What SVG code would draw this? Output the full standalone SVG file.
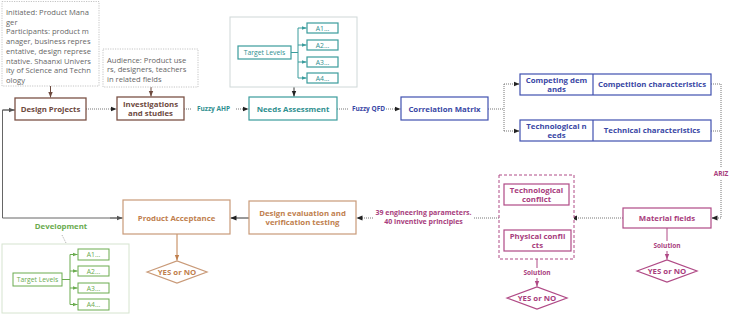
<svg xmlns="http://www.w3.org/2000/svg" width="731" height="316" viewBox="0 0 731 316">
<style>
text{font-family:"Open Sans","Noto Sans","Liberation Sans",sans-serif;}
.note{fill:#fff;stroke:#c4c4c4;stroke-width:1;stroke-dasharray:1.2 1.2;}
.nt{font-size:7.6px;fill:#666;}
.b{font-weight:bold;font-size:7.8px;text-anchor:middle;}
.brown{fill:#fff;stroke:#7b5246;stroke-width:1.3;}
.tbrown{fill:#6e4a3e;}
.teal{fill:#fff;stroke:#3a9c9c;stroke-width:1.2;}
.tteal{fill:#2f8f8f;}
.blue{fill:#fff;stroke:#4050b0;stroke-width:1.2;}
.tblue{fill:#3a48a5;}
.pink{fill:#fff;stroke:#b04a86;stroke-width:1.2;}
.tpink{fill:#a83d7d;}
.orange{fill:#fff;stroke:#c99a78;stroke-width:1.2;}
.torange{fill:#c0804e;}
.green{fill:#fff;stroke:#6aab4f;stroke-width:1;}
.tgreen{fill:#6aab4f;}
.cont{fill:#fff;stroke:#cfd8d8;stroke-width:1;}
.small{font-size:6.8px;text-anchor:middle;}
.lbl{font-weight:bold;font-size:6.5px;text-anchor:middle;}
.dot{fill:none;stroke:#777;stroke-width:1;stroke-dasharray:1 1;}
.sol{fill:none;stroke-width:1;}
</style>
<defs>
<marker id="ak" viewBox="0 0 6 6" refX="6" refY="3" markerWidth="6" markerHeight="6" orient="auto" markerUnits="userSpaceOnUse"><path d="M0,0.6 L6,3 L0,5.4 z" fill="#222"/></marker>
<marker id="ag" viewBox="0 0 6 6" refX="6" refY="3" markerWidth="6" markerHeight="6" orient="auto" markerUnits="userSpaceOnUse"><path d="M0,0.6 L6,3 L0,5.4 z" fill="#555"/></marker>
<marker id="abr" viewBox="0 0 6 6" refX="6" refY="3" markerWidth="6" markerHeight="6" orient="auto" markerUnits="userSpaceOnUse"><path d="M0,0.6 L6,3 L0,5.4 z" fill="#6e4a3e"/></marker>
<marker id="ate" viewBox="0 0 6 6" refX="6" refY="3" markerWidth="5" markerHeight="5" orient="auto" markerUnits="userSpaceOnUse"><path d="M0,0.6 L6,3 L0,5.4 z" fill="#3a9c9c"/></marker>
<marker id="agr" viewBox="0 0 6 6" refX="6" refY="3" markerWidth="5" markerHeight="5" orient="auto" markerUnits="userSpaceOnUse"><path d="M0,0.6 L6,3 L0,5.4 z" fill="#6aab4f"/></marker>
<marker id="aor" viewBox="0 0 6 6" refX="6" refY="3" markerWidth="6" markerHeight="6" orient="auto" markerUnits="userSpaceOnUse"><path d="M0,0.6 L6,3 L0,5.4 z" fill="#c0804e"/></marker>
<marker id="api" viewBox="0 0 6 6" refX="6" refY="3" markerWidth="6" markerHeight="6" orient="auto" markerUnits="userSpaceOnUse"><path d="M0,0.6 L6,3 L0,5.4 z" fill="#b04a86"/></marker>
</defs>

<g id="connectors">
  <line x1="50.5" y1="86" x2="50.5" y2="97.5" class="sol" stroke="#6e4a3e" marker-end="url(#abr)"/>
  <line x1="151" y1="87" x2="151" y2="96.5" class="sol" stroke="#6e4a3e" marker-end="url(#abr)"/>
  <line x1="294" y1="87" x2="294" y2="96.5" class="sol" stroke="#333" marker-end="url(#ak)"/>
  <line x1="86" y1="109" x2="116.5" y2="109" class="dot" marker-end="url(#ak)"/>
  <line x1="184" y1="109" x2="194" y2="109" class="dot"/>
  <line x1="232" y1="109" x2="248.5" y2="109" class="dot" marker-end="url(#ak)"/>
  <line x1="337" y1="109" x2="349" y2="109" class="dot"/>
  <line x1="384" y1="109" x2="400.5" y2="109" class="dot" marker-end="url(#ak)"/>
  <polyline points="488,109 504,109" class="dot"/>
  <line x1="504" y1="84" x2="504" y2="131" class="dot"/>
  <line x1="504" y1="84" x2="519.5" y2="84" class="dot" marker-end="url(#ak)"/>
  <line x1="504" y1="131" x2="519.5" y2="131" class="dot" marker-end="url(#ak)"/>
  <polyline points="711,84 721,84 721,218" class="dot"/>
  <line x1="711" y1="131" x2="721" y2="131" class="dot"/>
  <line x1="721" y1="218" x2="711.5" y2="218" class="dot" marker-end="url(#ak)"/>
  <line x1="623" y1="218" x2="571" y2="218" class="dot" marker-end="url(#ak)"/>
  <line x1="499" y1="218" x2="473" y2="218" class="dot"/>
  <line x1="373" y1="218" x2="356.5" y2="218" class="dot" marker-end="url(#ak)"/>
  <line x1="249" y1="218" x2="230.5" y2="218" class="sol" stroke="#333" marker-end="url(#ak)"/>
  <polyline points="15,110 2.5,110 2.5,218 122.5,218" class="sol" stroke="#666"/>
  <line x1="2.5" y1="110" x2="14.5" y2="110" class="sol" stroke="#666" marker-end="url(#ag)"/>
  <line x1="110" y1="218" x2="122.5" y2="218" class="sol" stroke="#666" marker-end="url(#ag)"/>
  <line x1="177" y1="234" x2="177" y2="260.5" class="sol" stroke="#c0804e" marker-end="url(#aor)"/>
  <line x1="667" y1="228" x2="667" y2="259.5" class="sol" stroke="#b04a86" marker-end="url(#api)"/>
  <line x1="537" y1="259" x2="537" y2="286.5" class="sol" stroke="#b04a86" marker-end="url(#api)"/>
  <line x1="62" y1="235" x2="66" y2="243" stroke="#999" stroke-width="0.8" stroke-dasharray="1 1"/>
  <rect x="191" y="104" width="45" height="10" fill="#fff"/>
  <text x="213.5" y="111.3" class="lbl tteal">Fuzzy AHP</text>
  <rect x="352" y="104" width="33" height="10" fill="#fff"/>
  <text x="368.5" y="111.3" class="lbl tblue">Fuzzy QFD</text>
  <rect x="712" y="168" width="18" height="11" fill="#fff"/>
  <text x="721" y="176.3" class="lbl tpink">ARIZ</text>
  <rect x="650" y="241" width="34" height="10" fill="#fff"/>
  <text x="667" y="248.3" class="lbl tpink">Solution</text>
  <rect x="520" y="268" width="34" height="10" fill="#fff"/>
  <text x="537" y="275.3" class="lbl tpink">Solution</text>
  <text x="423.5" y="215.3" class="lbl tpink" style="font-size:7px">39 engineering parameters.</text>
  <text x="423.5" y="224.3" class="lbl tpink" style="font-size:7px">40 inventive principles</text>
</g>

<g id="note-initiated">
  <rect x="2" y="1.5" width="97" height="84.5" class="note"/>
  <text class="nt" x="6" y="15">Initiated: Product Mana</text>
  <text class="nt" x="6" y="24.7">ger</text>
  <text class="nt" x="6" y="34.4">Participants: product m</text>
  <text class="nt" x="6" y="44.1">anager, business repres</text>
  <text class="nt" x="6" y="53.8">entative, design represe</text>
  <text class="nt" x="6" y="63.5">ntative. Shaanxi Univers</text>
  <text class="nt" x="6" y="73.2">ity of Science and Techn</text>
  <text class="nt" x="6" y="82.9">ology</text>
</g>
<g id="note-audience">
  <rect x="103" y="49" width="95" height="38" class="note"/>
  <text class="nt" x="107" y="62.5">Audience: Product use</text>
  <text class="nt" x="107" y="72.2">rs, designers, teachers</text>
  <text class="nt" x="107" y="81.9">in related fields</text>
</g>
<g id="design-projects">
  <rect x="15" y="98" width="71" height="22" class="brown"/>
  <text x="50.5" y="111.8" class="b tbrown">Design Projects</text>
</g>
<g id="investigations">
  <rect x="117" y="97" width="67" height="23" class="brown"/>
  <text x="150.5" y="106.6" class="b tbrown">Investigations</text>
  <text x="150.5" y="116" class="b tbrown">and studies</text>
</g>
<g id="needs-targets">
  <rect x="230" y="17" width="127" height="70" class="cont"/>
  <rect x="238" y="46" width="53" height="13" class="teal" stroke-width="1"/>
  <text x="264.5" y="55" class="small tteal">Target Levels</text>
  <path d="M291,52.5 H298 M298,28 V78" stroke="#3a9c9c" stroke-width="1" fill="none"/>
  <line x1="298" y1="28" x2="306.5" y2="28" stroke="#3a9c9c" marker-end="url(#ate)"/>
  <line x1="298" y1="45" x2="306.5" y2="45" stroke="#3a9c9c" marker-end="url(#ate)"/>
  <line x1="298" y1="62" x2="306.5" y2="62" stroke="#3a9c9c" marker-end="url(#ate)"/>
  <line x1="298" y1="78" x2="306.5" y2="78" stroke="#3a9c9c" marker-end="url(#ate)"/>
  <rect x="307" y="23" width="31" height="10" class="teal" stroke-width="1"/>
  <text x="322.5" y="30.5" class="small tteal">A1...</text>
  <rect x="307" y="40" width="31" height="10" class="teal" stroke-width="1"/>
  <text x="322.5" y="47.5" class="small tteal">A2...</text>
  <rect x="307" y="57" width="31" height="10" class="teal" stroke-width="1"/>
  <text x="322.5" y="64.5" class="small tteal">A3...</text>
  <rect x="307" y="73" width="31" height="10" class="teal" stroke-width="1"/>
  <text x="322.5" y="80.5" class="small tteal">A4...</text>
</g>
<g id="needs-assessment">
  <rect x="249" y="97" width="88" height="23" class="teal"/>
  <text x="293" y="111.8" class="b tteal">Needs Assessment</text>
</g>
<g id="correlation-matrix">
  <rect x="401" y="97" width="87" height="23" class="blue"/>
  <text x="444.5" y="111.8" class="b tblue">Correlation Matrix</text>
</g>
<g id="competing">
  <rect x="520" y="74" width="191" height="21" class="blue"/>
  <line x1="593" y1="74" x2="593" y2="95" stroke="#4050b0" stroke-width="1.2"/>
  <text x="556.5" y="82.5" class="b tblue">Competing dem</text>
  <text x="556.5" y="92" class="b tblue">ands</text>
  <text x="652" y="87.3" class="b tblue">Competition characteristics</text>
</g>
<g id="technological">
  <rect x="520" y="120" width="191" height="21" class="blue"/>
  <line x1="593" y1="120" x2="593" y2="141" stroke="#4050b0" stroke-width="1.2"/>
  <text x="556.5" y="128.5" class="b tblue">Technological n</text>
  <text x="556.5" y="138" class="b tblue">eeds</text>
  <text x="652" y="133.3" class="b tblue">Technical characteristics</text>
</g>
<g id="material-fields">
  <rect x="623" y="208" width="88" height="20" class="pink"/>
  <text x="667" y="220.8" class="b tpink">Material fields</text>
</g>
<g id="yesno-material">
  <polygon points="637,271 667,260 697,271 667,282" class="pink"/>
  <text x="667" y="274" class="b tpink">YES or NO</text>
</g>
<g id="conflicts">
  <rect x="499" y="175" width="75" height="84" fill="#fff" stroke="#b04a86" stroke-width="1" stroke-dasharray="3 2"/>
  <rect x="504" y="184" width="65" height="21" class="pink"/>
  <text x="536.5" y="192.5" class="b tpink">Technological</text>
  <text x="536.5" y="202" class="b tpink">conflict</text>
  <rect x="504" y="230" width="67" height="21" class="pink"/>
  <text x="537.5" y="238.5" class="b tpink">Physical confli</text>
  <text x="537.5" y="248" class="b tpink">cts</text>
</g>
<g id="yesno-conflicts">
  <polygon points="507,298 537,287 567,298 537,309" class="pink"/>
  <text x="537" y="301" class="b tpink">YES or NO</text>
</g>
<g id="design-evaluation">
  <rect x="249" y="201" width="107" height="33" class="orange"/>
  <text x="302.5" y="215.5" class="b torange">Design evaluation and</text>
  <text x="302.5" y="225" class="b torange">verification testing</text>
</g>
<g id="product-acceptance">
  <rect x="123" y="200" width="107" height="34" class="orange"/>
  <text x="176.5" y="220.8" class="b torange">Product Acceptance</text>
</g>
<g id="yesno-acceptance">
  <polygon points="147,272 177,261 207,272 177,283" class="orange"/>
  <text x="177" y="275" class="b torange">YES or NO</text>
</g>
<g id="development">
  <text x="61" y="229" class="b tgreen">Development</text>
  <rect x="2" y="244" width="127" height="69" fill="#fff" stroke="#d6e4cf" stroke-width="1"/>
  <rect x="13" y="273" width="49" height="13" class="green"/>
  <text x="37.5" y="282" class="small tgreen">Target Levels</text>
  <path d="M62,279.5 H70 M70,254.5 V304.5" stroke="#6aab4f" stroke-width="1" fill="none"/>
  <line x1="70" y1="254.5" x2="77.5" y2="254.5" stroke="#6aab4f" marker-end="url(#agr)"/>
  <line x1="70" y1="271" x2="77.5" y2="271" stroke="#6aab4f" marker-end="url(#agr)"/>
  <line x1="70" y1="288" x2="77.5" y2="288" stroke="#6aab4f" marker-end="url(#agr)"/>
  <line x1="70" y1="304.5" x2="77.5" y2="304.5" stroke="#6aab4f" marker-end="url(#agr)"/>
  <rect x="78" y="249" width="31" height="11" class="green"/>
  <text x="93.5" y="257" class="small tgreen">A1...</text>
  <rect x="78" y="266" width="31" height="10" class="green"/>
  <text x="93.5" y="273.5" class="small tgreen">A2...</text>
  <rect x="78" y="283" width="31" height="10" class="green"/>
  <text x="93.5" y="290.5" class="small tgreen">A3...</text>
  <rect x="78" y="299" width="31" height="11" class="green"/>
  <text x="93.5" y="307" class="small tgreen">A4...</text>
</g>
</svg>
